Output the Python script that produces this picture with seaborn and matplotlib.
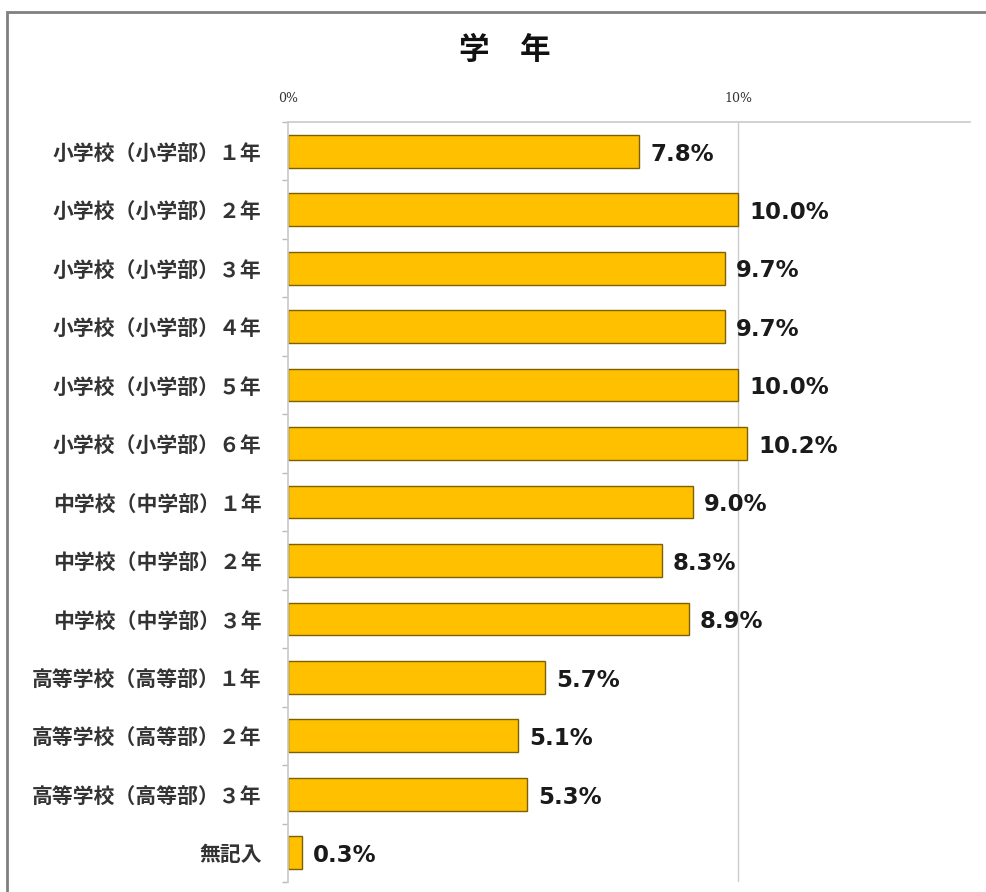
import matplotlib
matplotlib.use("Agg")
import matplotlib.pyplot as plt
import seaborn as sns
import pandas as pd
import numpy as np
from matplotlib.patches import Rectangle

categories = ["小学校（小学部）１年", "小学校（小学部）２年", "小学校（小学部）３年", "小学校（小学部）４年",
              "小学校（小学部）５年", "小学校（小学部）６年", "中学校（中学部）１年", "中学校（中学部）２年",
              "中学校（中学部）３年", "高等学校（高等部）１年", "高等学校（高等部）２年", "高等学校（高等部）３年",
              "無記入"]
values = [7.8, 10.0, 9.7, 9.7, 10.0, 10.2, 9.0, 8.3, 8.9, 5.7, 5.1, 5.3, 0.3]
tick_values = [0, 10]
tick_labels = ["0%", "10%"]
title = "学　年"

sns.set_theme(style="white")
plt.rcParams['font.family'] = ['Noto Sans CJK JP', 'DejaVu Sans']

df = pd.DataFrame({"cat": categories, "val": values})

fig = plt.figure(figsize=(9.87, 8.92), dpi=100)
ax = fig.add_axes([288/987, 1-882/892, (970-288)/987, (882-122)/892])

sns.barplot(data=df, y="cat", x="val", orient="h", color="#FFC000",
            edgecolor="#7F6000", linewidth=1.0, width=0.56, saturation=1, ax=ax)

ax.set_xlim(0, 15.15)
ax.set_ylim(len(categories) - 0.5, -0.5)
ax.xaxis.tick_top()
ax.set_xticks(tick_values)
ax.set_xticklabels(tick_labels, fontsize=9, color="#333333", family=['DejaVu Serif'])
ax.tick_params(axis='x', length=0, pad=12)
ax.set_xlabel("")
ax.set_ylabel("")
ax.set_yticks(range(len(categories)))
ax.set_yticklabels(categories, fontsize=15, color="#333333", fontweight="bold")
ax.tick_params(axis='y', length=0, pad=19)
ax.set_yticks(np.arange(-0.5, len(categories), 1), minor=True)
ax.tick_params(axis='y', which='minor', length=4, color="#bbbbbb", width=1, left=True)
ax.grid(False)
ax.axvline(10, color="#cccccc", lw=1, zorder=0)

for s in ["right", "bottom"]:
    ax.spines[s].set_visible(False)
ax.spines["top"].set_color("#cccccc")
ax.spines["left"].set_color("#cccccc")

for i, v in enumerate(values):
    ax.annotate(f"{v:.1f}%", xy=(v, i), xytext=(8, -2), textcoords="offset points",
                ha="left", va="center", fontsize=16.5, fontweight="bold", color="#1a1a1a",
                family=['DejaVu Sans'])

fig.text(505/987, 1-50/892, title, ha="center", va="center", fontsize=22, fontweight="bold",
         color="#111111")

fig.patches.append(Rectangle((7/987, -0.05), 1.2, 1.05 - 12/892, transform=fig.transFigure,
                             fill=False, edgecolor="#808080", linewidth=2, figure=fig))

fig.savefig("out.png", dpi=100)
